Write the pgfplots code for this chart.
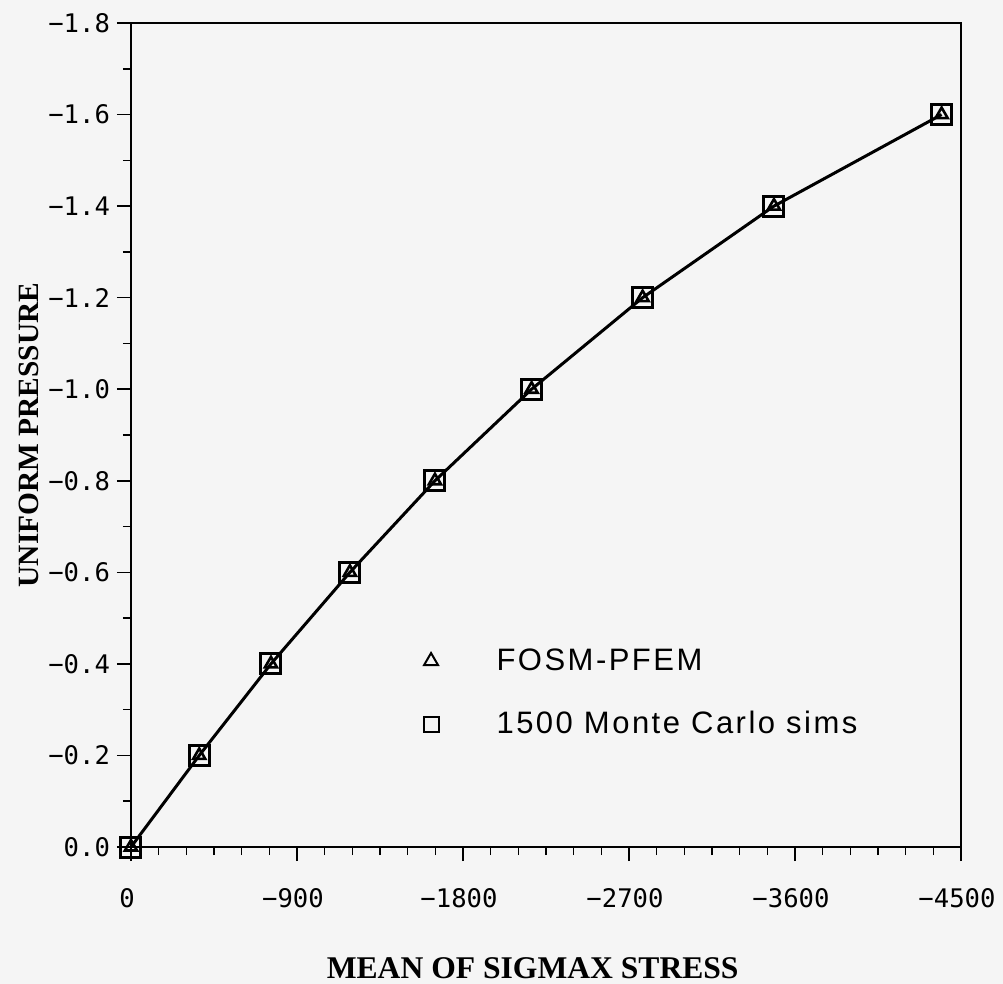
\documentclass[border=0pt]{standalone}
\usepackage{fontspec}
\setmainfont{Liberation Serif}
\newfontfamily\tickfont{DejaVu Sans Mono}
\newfontfamily\legfont[LetterSpace=8]{Liberation Sans}
\usepackage{pgfplots}
\pgfplotsset{compat=1.18}

\begin{document}
\begin{tikzpicture}
\fill[white!96!black] (-65.5pt,-68.5pt) rectangle (436pt,423.5pt);
\useasboundingbox (-65.5pt,-68.5pt) rectangle (436pt,423.5pt);
\begin{axis}[
  at={(0,0)}, anchor=south west,
  scale only axis, width=415pt, height=412pt,
  x dir=reverse, y dir=reverse,
  xmin=-4500, xmax=0, ymin=-1.8, ymax=0,
  xtick={-4500,-3600,-2700,-1800,-900,0},
  xticklabels={−4500,−3600,−2700,−1800,−900,0},
  ytick={-1.8,-1.6,-1.4,-1.2,-1.0,-0.8,-0.6,-0.4,-0.2,0},
  yticklabels={−1.8,−1.6,−1.4,−1.2,−1.0,−0.8,−0.6,−0.4,−0.2,0.0},
  minor x tick num=5, minor y tick num=1,
  tick align=outside, tick pos=left,
  major tick length=7pt, minor tick length=4pt,
  every tick/.style={black, line width=0.8pt},
  axis line style={line width=1pt},
  ticklabel style={font=\fontsize{12.8}{15}\tickfont},
  xticklabel style={yshift=-10pt, xshift=-2pt},
  every axis x label/.style={at={(axis description cs:0.484,-0.159)}, anchor=base},
  every axis y label/.style={at={(axis description cs:-0.112,0.5)}, anchor=base, rotate=90},
  xlabel={\fontsize{15.8}{18}\selectfont\bfseries MEAN OF SIGMAX STRESS},
  ylabel={\fontsize{14.7}{18}\selectfont\bfseries UNIFORM PRESSURE},
  clip=false,
  legend style={at={(axis description cs:0.352,0.246)}, anchor=north west,
    draw=none, fill=none, inner sep=0pt, row sep=15pt,
    font=\fontsize{15.5}{18}\legfont, legend cell align=left,
    /tikz/every odd column/.append style={column sep=27pt}},
]
\addplot[black, line width=1.5pt, forget plot] coordinates {
  (0,0) (-370,-0.2) (-759,-0.4) (-1187,-0.6) (-1648,-0.8)
  (-2172,-1.0) (-2774,-1.2) (-3486,-1.4) (-4395,-1.6)};
\addplot[only marks, mark=triangle, mark size=3.5pt, line width=1.3pt,
  legend image post style={mark size=4pt, line width=1pt}] coordinates {
  (0,0) (-370,-0.2) (-759,-0.4) (-1187,-0.6) (-1648,-0.8)
  (-2172,-1.0) (-2774,-1.2) (-3486,-1.4) (-4395,-1.6)};
\addlegendentry{FOSM-PFEM}
\addplot[only marks, mark=square, mark size=5pt, line width=1.5pt,
  legend image post style={mark size=3.75pt, line width=1pt}] coordinates {
  (0,0) (-370,-0.2) (-759,-0.4) (-1187,-0.6) (-1648,-0.8)
  (-2172,-1.0) (-2774,-1.2) (-3486,-1.4) (-4395,-1.6)};
\addlegendentry{1500 Monte Carlo sims}
\end{axis}
\end{tikzpicture}
\end{document}
